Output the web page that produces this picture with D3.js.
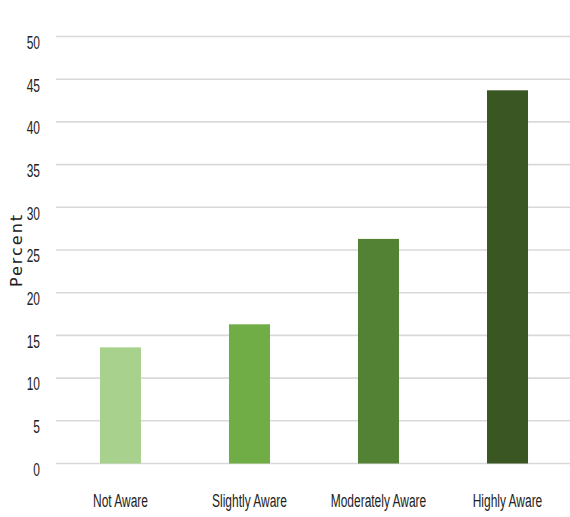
<!DOCTYPE html>
<html><head><meta charset="utf-8">
<script src="https://cdn.jsdelivr.net/npm/d3@7"></script>
<style>body{margin:0;background:#fff}</style>
</head><body>
<svg id="c" width="570" height="517"></svg>
<script>
const categories = ["Not Aware", "Slightly Aware", "Moderately Aware", "Highly Aware"];
const values = [13.6, 16.3, 26.3, 43.7];
const colors = ["#a9d18e", "#70ad47", "#548235", "#3a5723"];
const yTicks = [0, 5, 10, 15, 20, 25, 30, 35, 40, 45, 50];
const yLabel = "Percent";

const svg = d3.select("#c");
const x = d3.scaleBand().domain(categories).range([56, 572]).paddingInner(0.682).paddingOuter(0.341);
const y = d3.scaleLinear().domain([0, 50]).range([463.5, 36.5]);
const sx = 0.63;

// gridlines
svg.append("g").selectAll("line").data(yTicks).join("line")
  .attr("x1", 56).attr("x2", 570)
  .attr("y1", d => y(d)).attr("y2", d => y(d))
  .attr("stroke", "#d9d9d9").attr("stroke-width", 1.6);

// bars
svg.append("g").selectAll("rect").data(values).join("rect")
  .attr("x", (d, i) => x(categories[i]))
  .attr("width", x.bandwidth())
  .attr("y", d => y(d))
  .attr("height", d => y(0) - y(d))
  .attr("fill", (d, i) => colors[i]);

// y tick labels
svg.append("g").selectAll("text").data(yTicks).join("text")
  .attr("transform", d => `translate(40,${y(d) + 12.3}) scale(${sx},1)`)
  .attr("text-anchor", "end")
  .attr("font-family", "Liberation Sans, Arial, sans-serif")
  .attr("font-size", 19).attr("fill", "#222")
  .text(d => d);

// x labels
svg.append("g").selectAll("text").data(categories).join("text")
  .attr("transform", d => `translate(${x(d) + x.bandwidth() / 2},506.5) scale(${sx},1)`)
  .attr("text-anchor", "middle")
  .attr("font-family", "Liberation Sans, Arial, sans-serif")
  .attr("font-size", 19).attr("fill", "#222")
  .text(d => d);

// y axis title
svg.append("text")
  .attr("transform", "translate(22,250) rotate(-90)")
  .attr("text-anchor", "middle")
  .attr("font-family", "DejaVu Sans, sans-serif")
  .attr("font-size", 16).attr("letter-spacing", 2).attr("fill", "#222")
  .text(yLabel);
</script>
</body></html>
